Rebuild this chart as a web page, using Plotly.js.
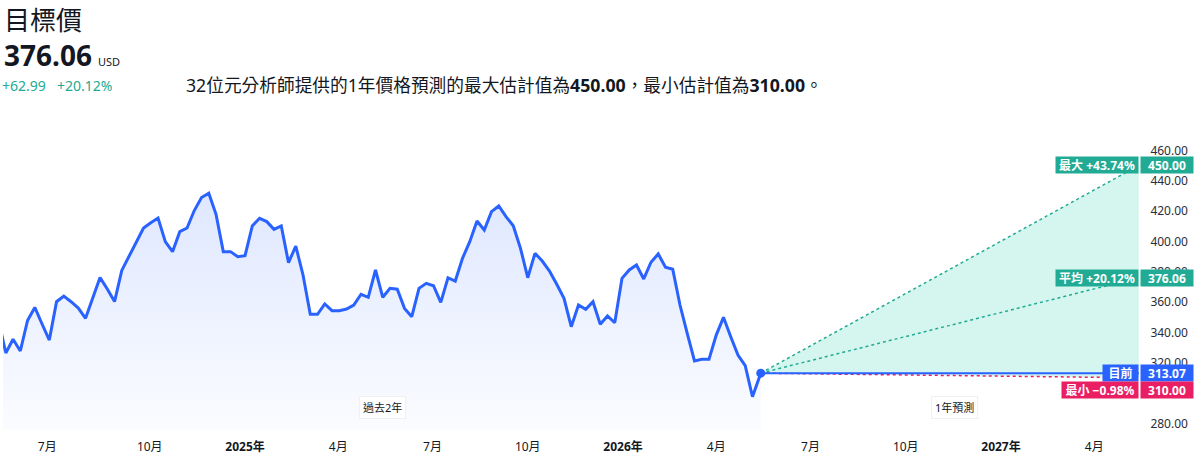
<!DOCTYPE html>
<html>
<head>
<meta charset="utf-8">
<script src="https://cdn.plot.ly/plotly-3.0.1.min.js"></script>
<style>
  html, body { margin: 0; padding: 0; background: #ffffff; }
  #chart { width: 1196px; height: 460px; }
</style>
</head>
<body>
<div id="chart"></div>
<script>
// ---------- data ----------
const historyStart = '2024-05-08';   // first weekly close (partly off the left edge)
const historyPrices = [
  348.0, 326.4, 335.4, 327.7, 347.8, 356.4, 345.5, 334.9, 360.2, 363.9,
  360.2, 356.0, 349.2, 362.8, 376.1, 368.6, 360.3, 380.8, 390.0, 399.8,
  408.8, 412.3, 415.4, 399.8, 393.2, 406.4, 408.8, 420.3, 428.9, 431.7,
  417.8, 393.2, 393.2, 389.9, 390.5, 410.1, 415.2, 413.0, 407.9, 410.1,
  385.9, 396.9, 377.8, 351.9, 351.9, 358.7, 354.3, 354.3, 355.4, 358.0,
  365.1, 363.1, 381.1, 363.1, 369.0, 368.4, 355.8, 350.3, 369.0, 372.3,
  370.7, 359.8, 376.0, 373.8, 388.8, 399.8, 413.4, 407.5, 419.6, 423.3,
  416.3, 410.3, 395.4, 376.0, 392.1, 387.0, 380.4, 371.7, 362.4, 343.7,
  358.0, 355.2, 360.2, 345.3, 350.8, 346.3, 375.6, 381.1, 384.4, 375.2,
  386.2, 391.7, 382.9, 381.6, 358.0, 339.3, 321.1, 322.2, 322.2, 338.2,
  349.9, 337.1, 325.0, 318.0, 297.5
];
const currentDate = '2026-05-14';
const currentPrice = 313.07;
const forecastDate = '2027-05-14';
const targetMax = 450.00;
const targetAvg = 376.06;
const targetMin = 310.00;
const pctMax = '+43.74%';
const pctAvg = '+20.12%';
const pctMin = '−0.98%';
const changeAbs = '+62.99';
const changePct = '+20.12%';
const analystCount = 32;

const xTickVals = ['2024-06-24','2024-10-01','2025-01-01','2025-04-01','2025-07-01','2025-10-01',
                   '2026-01-01','2026-04-01','2026-07-01','2026-10-01','2027-01-01','2027-04-01'];
const xTickText = ['7月','10月','<b>2025年</b>','4月','7月','10月',
                   '<b>2026年</b>','4月','7月','10月','<b>2027年</b>','4月'];
// 300.00 is fully covered by the 310.00 tag in the reference, so it is not listed
const yTickVals = [280, 320, 340, 360, 380, 400, 420, 440, 460];

// ---------- build ----------
function addDays(iso, n) {
  const d = new Date(iso + 'T00:00:00Z');
  d.setUTCDate(d.getUTCDate() + n);
  return d.toISOString().slice(0, 10);
}
const histX = historyPrices.map((_, i) => addDays(historyStart, 7 * i));
histX.push(currentDate);
const histY = historyPrices.concat([currentPrice]);

const BLUE = '#2962ff', TEAL = '#22ab94', PINK = '#e91e63', TXT = '#131722';
const FONT = 'Noto Sans, Noto Sans CJK TC, sans-serif';

const traces = [
  {
    x: histX, y: histY, type: 'scatter', mode: 'lines',
    line: { color: BLUE, width: 3 },
    fill: 'tozeroy',
    fillgradient: {
      type: 'vertical', start: 275.6, stop: 432,
      colorscale: [[0, 'rgba(41,98,255,0.02)'], [1, 'rgba(41,98,255,0.15)']]
    },
    hoverinfo: 'skip'
  },
  {
    x: [currentDate, forecastDate], y: [currentPrice, targetMax], type: 'scatter', mode: 'lines',
    line: { color: TEAL, width: 1.5, dash: 'dot' }, hoverinfo: 'skip'
  },
  {
    x: [currentDate, forecastDate], y: [currentPrice, targetMin], type: 'scatter', mode: 'lines',
    line: { color: PINK, width: 1.5, dash: 'dot' },
    fill: 'tonexty', fillcolor: 'rgba(42,210,170,0.2)', hoverinfo: 'skip'
  },
  {
    x: [currentDate, forecastDate], y: [currentPrice, targetAvg], type: 'scatter', mode: 'lines',
    line: { color: TEAL, width: 1.5, dash: 'dot' }, hoverinfo: 'skip'
  },
  {
    x: [currentDate, forecastDate], y: [currentPrice, currentPrice], type: 'scatter', mode: 'lines',
    line: { color: BLUE, width: 2 }, hoverinfo: 'skip'
  },
  {
    x: [currentDate], y: [currentPrice], type: 'scatter', mode: 'markers',
    marker: { color: BLUE, size: 9 }, hoverinfo: 'skip'
  }
];

// plot area in pixels: x 3..1140, y 130..430
const L = 3, R = 1140, T = 130, B = 430;
const px = v => (v - L) / (R - L);
const py = v => (B - v) / (B - T);

function fix(v) { return v.toFixed(2); }

const annotations = [
  { text: '目標價', x: px(3), y: py(20), font: { size: 26, color: TXT } },
  { text: '<b>' + fix(targetAvg) + '</b>', x: px(3), y: py(55), font: { size: 28, color: TXT } },
  { text: 'USD', x: px(97), y: py(61), font: { size: 11, color: TXT } },
  { text: changeAbs, x: px(1), y: py(85), font: { size: 14, color: TEAL } },
  { text: changePct, x: px(56), y: py(85), font: { size: 14, color: TEAL } },
  { text: analystCount + '位元分析師提供的1年價格預測的最大估計值為<b>' + fix(targetMax) +
          '</b>，最小估計值為<b>' + fix(targetMin) + '</b>。',
    x: px(185), y: py(85), font: { size: 17.7, color: TXT } },
].map(a => Object.assign({ xref: 'paper', yref: 'paper', xanchor: 'left', yanchor: 'middle',
                           showarrow: false, borderpad: 0 }, a));

function tag(text, yv, color, side, width, yshift) {
  return {
    text: '<b>' + text + '</b>', xref: 'paper', yref: 'y', x: 1, y: yv,
    xanchor: side, yanchor: 'middle', showarrow: false,
    xshift: side === 'right' ? -1 : 0, yshift: yshift || 0,
    bgcolor: color, font: { size: 12, color: '#ffffff', family: FONT },
    width: width, height: 16, borderpad: 0, align: 'center'
  };
}
annotations.push(
  tag('最大 ' + pctMax, targetMax, TEAL, 'right', 82),
  tag(fix(targetMax), targetMax, TEAL, 'left', 52),
  tag('平均 ' + pctAvg, targetAvg, TEAL, 'right', 82),
  tag(fix(targetAvg), targetAvg, TEAL, 'left', 52),
  tag('目前', currentPrice, BLUE, 'right', 35),
  tag(fix(currentPrice), currentPrice, BLUE, 'left', 52),
  tag('最小 ' + pctMin, targetMin, PINK, 'right', 76, -12.5),
  tag(fix(targetMin), targetMin, PINK, 'left', 52, -12.5)
);

function pill(text, cx) {
  return {
    text: text, xref: 'paper', yref: 'paper', x: px(cx), y: py(407),
    xanchor: 'center', yanchor: 'middle', showarrow: false,
    bgcolor: '#ffffff', bordercolor: '#eef0f3', borderwidth: 1, borderpad: 3,
    font: { size: 11, color: TXT, family: FONT }
  };
}
annotations.push(pill('過去2年', 382), pill('1年預測', 954));

const layout = {
  width: 1196, height: 460,
  margin: { l: L, r: 1196 - R, t: T, b: 460 - B, pad: 0 },
  paper_bgcolor: '#ffffff', plot_bgcolor: '#ffffff',
  showlegend: false, hovermode: false,
  font: { family: FONT, size: 12, color: TXT },
  xaxis: {
    type: 'date', range: ['2024-05-12 07:00', '2027-05-15 05:00'],
    tickmode: 'array', tickvals: xTickVals, ticktext: xTickText,
    showgrid: false, zeroline: false, showline: false,
    ticks: 'outside', ticklen: 6, tickcolor: 'rgba(0,0,0,0)',
    tickfont: { size: 12, color: TXT }, fixedrange: true
  },
  yaxis: {
    side: 'right', range: [275.6, 473.4],
    tickmode: 'array', tickvals: yTickVals, ticktext: yTickVals.map(fix),
    showgrid: false, zeroline: false, showline: false,
    ticks: 'outside', ticklen: 7, tickcolor: 'rgba(0,0,0,0)',
    tickfont: { size: 12, color: '#2a2e39' }, fixedrange: true
  },
  annotations: annotations
};

Plotly.newPlot('chart', traces, layout, { staticPlot: true, displayModeBar: false });
</script>
</body>
</html>
